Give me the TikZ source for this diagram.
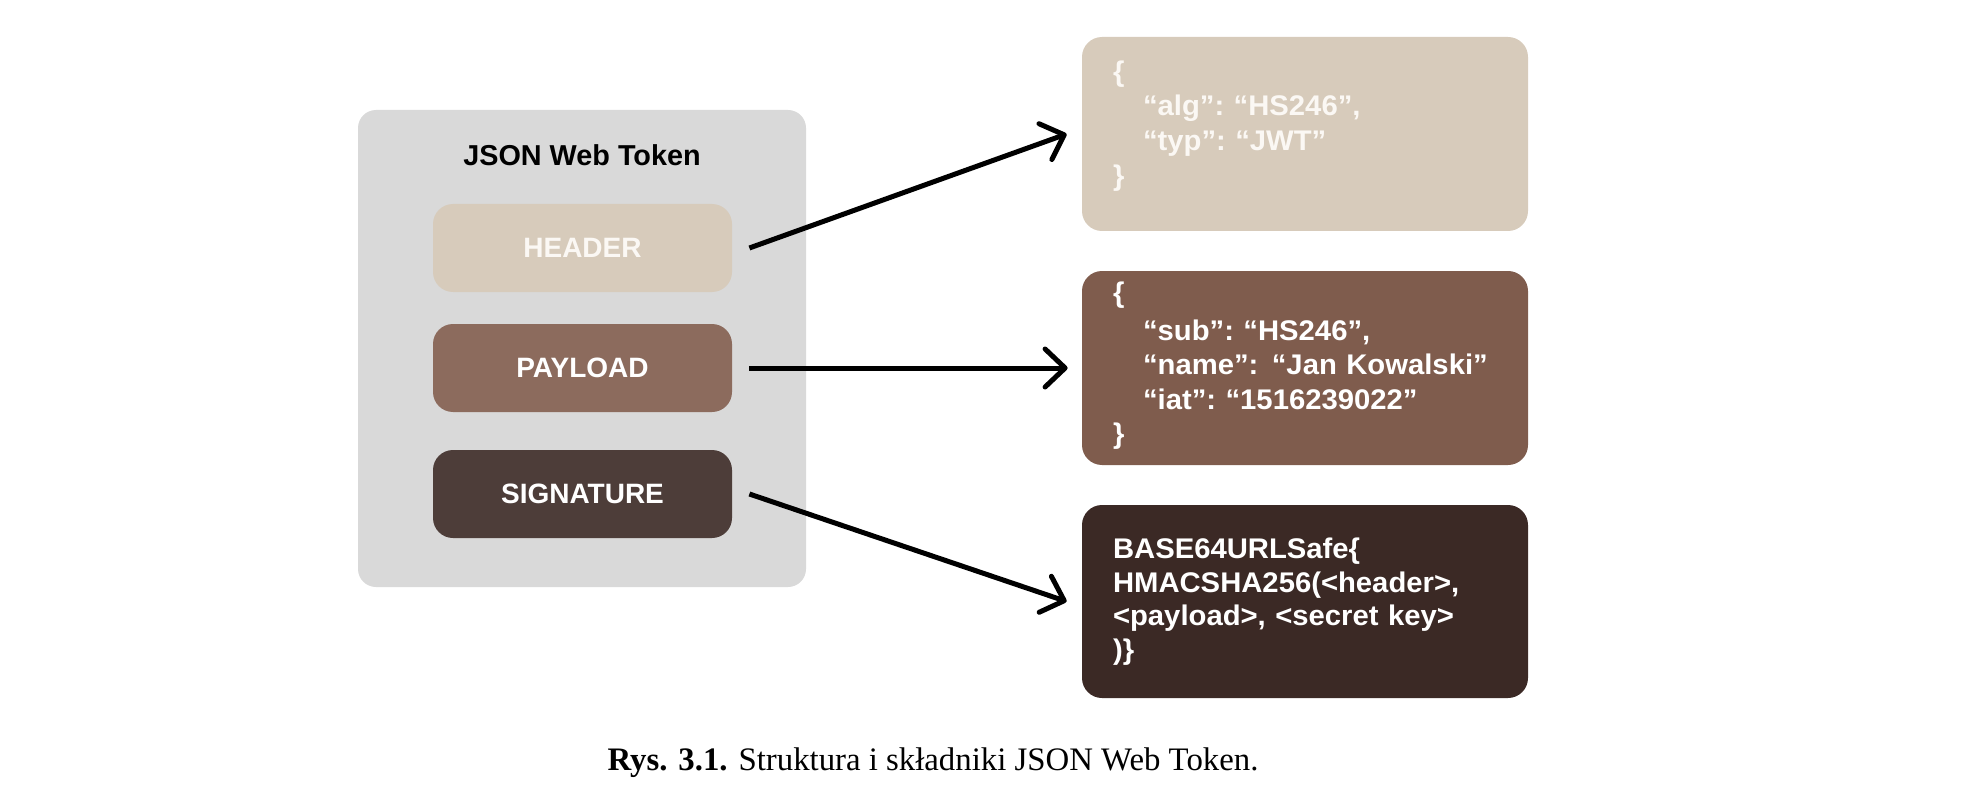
\documentclass[tikz,border=0pt]{standalone}
\usepackage{fontspec}
\setmainfont{Liberation Serif}
\newfontfamily\lsans{Liberation Sans}
\newfontfamily\jsonf[FakeStretch=1.03]{Liberation Sans}
\newcommand\jsontext{\jsonf\bfseries\fontsize{14.2}{17.3}\selectfont\frenchspacing}
\newcommand\sigtext{\jsonf\bfseries\fontsize{14.2}{16.8}\selectfont\frenchspacing}
\usetikzlibrary{arrows.meta}
\definecolor{jwtgray}{HTML}{D9D9D9}
\definecolor{beige}{HTML}{D7CBBB}
\definecolor{hdrtext}{HTML}{FBF8F4}
\definecolor{payL}{HTML}{8C6B5D}
\definecolor{payR}{HTML}{7F5C4D}
\definecolor{sigL}{HTML}{4D3D39}
\definecolor{sigR}{HTML}{3B2925}
\begin{document}
\begin{tikzpicture}[x=0.5pt,y=-0.5pt,
  part/.style={rounded corners=10pt, minimum width=149.5pt, minimum height=44pt,
    inner sep=0pt, text=white, font=\lsans\bfseries\fontsize{14}{16}\selectfont},
  json/.style={rounded corners=10pt, minimum width=223pt, minimum height=97pt,
    inner xsep=15.5pt, inner ysep=0pt, text width=192pt, align=left, text=white,
    font=\jsontext},
  arr/.style={line width=2.5pt, -{Straight Barb[length=10pt,width=19pt,round]}}]
\useasboundingbox (0,0) rectangle (1974,802);
% left container
\node[fill=jwtgray, rounded corners=9pt, minimum width=224pt, minimum height=238.5pt, inner sep=0pt] (jwt) at (582,348.5) {};
\node[anchor=base, inner sep=0pt, font=\lsans\bfseries\fontsize{14.4}{16}\selectfont] (title) at (582,166) {JSON Web Token};
\node[part, fill=beige, text=hdrtext] (hdr) at (582.5,248) {HEADER};
\node[part, fill=payL] (pay) at (582.5,368) {PAYLOAD};
\node[part, fill=sigL] (sig) at (582.5,494) {SIGNATURE};
% right boxes
\node[json, fill=beige, text=hdrtext] (hj) at (1305,134) {\{\\\hspace*{15pt}“alg”: “HS246”,\\\hspace*{15pt}“typ”: “JWT”\\\}\rule[-11pt]{0pt}{0pt}};
\node[json, fill=payR] (pj) at (1305,368) {\{\\[1.5pt]\hspace*{15pt}“sub”: “HS246”,\\\hspace*{15pt}\mbox{“name”:\ \hspace{2pt}“Jan Kowalski”}\\\hspace*{15pt}“iat”: “1516239022”\\\}\rule[-5pt]{0pt}{0pt}};
\node[json, fill=sigR, minimum height=96.5pt, font=\sigtext] (sj) at (1305,601.5) {BASE64URLSafe\{\\HMACSHA256(<header>,\\<payload>, <secret key>\\)\}};
% arrows
\draw[arr] ([xshift=8.5pt]hdr.east) -- ([xshift=-7.5pt]hj.west);
\draw[arr] ([xshift=8.5pt]pay.east) -- ([xshift=-7pt]pj.west);
\draw[arr] ([xshift=8.5pt]sig.east) -- ([xshift=-7.5pt]sj.west);
% caption
\node[anchor=base, inner sep=0pt, font=\fontsize{16.4}{18}\selectfont] (cap) at (933,770) {\textbf{Rys. 3.1.} Struktura i składniki JSON Web Token.};
\end{tikzpicture}
\end{document}
